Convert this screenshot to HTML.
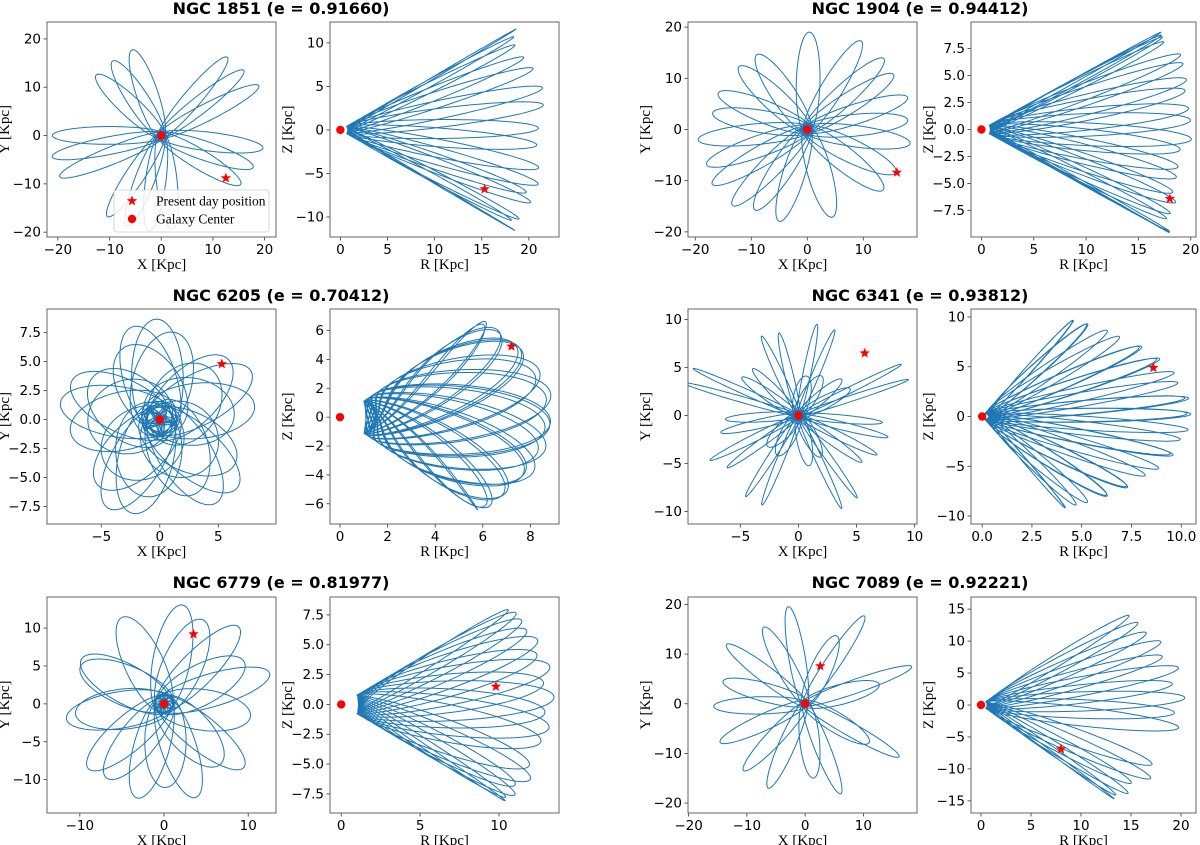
<!DOCTYPE html>
<html><head><meta charset="utf-8"><title>Cluster orbits</title>
<style>
html,body{margin:0;padding:0;background:#fff;}
svg{display:block;}
.tk{font-family:"DejaVu Sans","Liberation Sans",sans-serif;font-size:13.5px;fill:#000;}
.al{font-family:"Liberation Serif",serif;font-size:15px;fill:#000;}
.tt{font-family:"DejaVu Sans","Liberation Sans",sans-serif;font-size:16px;font-weight:bold;fill:#000;}
.lg{font-family:"Liberation Serif",serif;font-size:13.5px;fill:#000;}
</style></head>
<body>
<svg id="fig" width="1200" height="845" viewBox="0 0 1200 845" xmlns="http://www.w3.org/2000/svg"></svg>
<script>
// ---------- data ----------
const groupTitles = ["NGC 1851 (e = 0.91660)","NGC 1904 (e = 0.94412)","NGC 6205 (e = 0.70412)","NGC 6341 (e = 0.93812)","NGC 6779 (e = 0.81977)","NGC 7089 (e = 0.92221)"];
const xyXLim = [[-22.1,22.2],[-21.3,19.6],[-9.64,9.93],[-9.5,10.2],[-13.9,13.3],[-20.1,19.2]];
const xyYLim = [[-21,23.5],[-21,21],[-9.0,9.54],[-11.3,11.1],[-14.4,14.1],[-22,21.5]];
const xyXTicks = [[-20,-10,0,10,20],[-20,-10,0,10],[-5,0,5],[-5,0,5,10],[-10,0,10],[-20,-10,0,10]];
const xyYTicks = [[-20,-10,0,10,20],[-20,-10,0,10,20],[-7.5,-5,-2.5,0,2.5,5,7.5],[-10,-5,0,5,10],[-10,-5,0,5,10],[-20,-10,0,10,20]];
const xyYDec = [0,0,1,0,0,0];
const rzRLim = [[-1.1,23.2],[-1.0,20.5],[-0.42,9.2],[-0.56,10.74],[-0.71,13.8],[-1.0,21.5]];
const rzZLim = [[-12.3,12.4],[-9.94,9.94],[-7.4,7.49],[-10.8,10.8],[-9.1,9.0],[-16.9,16.9]];
const rzRTicks = [[0,5,10,15,20],[0,5,10,15,20],[0,2,4,6,8],[0,2.5,5,7.5,10],[0,5,10],[0,5,10,15,20]];
const rzZTicks = [[-10,-5,0,5,10],[-7.5,-5,-2.5,0,2.5,5,7.5],[-6,-4,-2,0,2,4,6],[-10,-5,0,5,10],[-7.5,-5,-2.5,0,2.5,5,7.5],[-15,-10,-5,0,5,10,15]];
const rzRDec = [0,0,0,1,0,0];
const rzZDec = [0,1,0,0,1,0];
const starX = [12.5,16.0,5.3,5.7,3.5,2.6];
const starY = [-8.8,-8.4,4.8,6.5,9.2,7.6];
const starR = [15.3,18.0,7.2,8.6,9.8,8.0];
const starZ = [-6.8,-6.4,4.9,4.9,1.5,-6.9];
const centerX = [0,0,0,0,0,0];
const centerY = [0,0,0,0,0,0];
// orbit shape parameters
const orbRmin = [1.0,1.0,1.5,0.6,1.3,0.8];
const orbRmax = [22,20.3,9.0,10.7,13.6,20.6];
const orbCount = [16,20,24,30,18,16];
const orbPrecW = [2.537,2.839,2.39,2.3,2.2,2.2];
const orbPrecZ = [0.41,2.839,2.39,2.3,2.2,2.2];
const orbPrecN = [0.02,0.04,0.12,0.2,0.1,0.15];
const orbInc = [32,28,48,66,38,48];
const orbVar = [0.05,0.06,0.04,0.06,0.05,0.06];
const orbWidth = [0.45,0.5,0.9,0.3,0.65,0.5];

// ---------- layout ----------
const NS="http://www.w3.org/2000/svg";
const svg=document.getElementById('fig');
const colX=[[47,276,330,559],[688,917,971,1196]];
const rowY=[[22,237],[309,524],[597,813]];
const titleY=[14,301,588];
function mk(tag,attrs,parent){const e=document.createElementNS(NS,tag);for(const k in attrs)e.setAttribute(k,attrs[k]);(parent||svg).appendChild(e);return e;}
function fmt(v,d){return (v<0?"\u2212":"")+Math.abs(v).toFixed(d);}
function starPts(cx,cy,ro){let p=[];for(let i=0;i<10;i++){const r=i%2?ro*0.42:ro;const a=-Math.PI/2+i*Math.PI/5;p.push((cx+r*Math.cos(a)).toFixed(1)+","+(cy+r*Math.sin(a)).toFixed(1));}return p.join(" ");}

function axes(g,name,x0,x1,y0,y1,xl,yl,xt,yt,xd,yd,xlab,ylab){
  const sx=v=>x0+(v-xl[0])/(xl[1]-xl[0])*(x1-x0);
  const sy=v=>y1-(v-yl[0])/(yl[1]-yl[0])*(y1-y0);
  const grp=mk('g',{},g);
  
  
  const cid='clip-'+name;
  const cp=mk('clipPath',{id:cid},grp);mk('rect',{x:x0,y:y0,width:x1-x0,height:y1-y0},cp);
  const plot=mk('g',{'clip-path':'url(#'+cid+')'},grp);
  
  
  const xa=mk('g',{},grp);
  
  
  xt.forEach(v=>{const X=sx(v);mk('line',{x1:X,x2:X,y1:y1,y2:y1+3.5,stroke:'#333','stroke-width':0.8},xa);
    const t=mk('text',{x:X,y:y1+17,'text-anchor':'middle',class:'tk'},xa);t.textContent=fmt(v,xd);
    });
  const ya=mk('g',{},grp);
  
  
  yt.forEach(v=>{const Y=sy(v);mk('line',{x1:x0-3.5,x2:x0,y1:Y,y2:Y,stroke:'#333','stroke-width':0.8},ya);
    const t=mk('text',{x:x0-6,y:Y+4.5,'text-anchor':'end',class:'tk'},ya);t.textContent=fmt(v,yd);
    });
  const xt2=mk('text',{x:(x0+x1)/2,y:y1+32,'text-anchor':'middle',class:'al'},grp);xt2.textContent=xlab;
  
  const yx=x0-38, yy=(y0+y1)/2;
  const yt2=mk('text',{x:yx,y:yy,'text-anchor':'middle',class:'al',transform:`rotate(-90 ${yx} ${yy})`},grp);yt2.textContent=ylab;
  
  const fr=mk('rect',{x:x0,y:y0,width:x1-x0,height:y1-y0,fill:'none',stroke:'#666','stroke-width':1},grp);
  
  return {sx,sy,plot,grp};
}

for(let k=0;k<6;k++){
  const row=Math.floor(k/2), col=k%2;
  const [ax0,ax1,bx0,bx1]=colX[col];
  const [y0,y1]=rowY[row];
  const g=mk('g',{});
  
  
  const tt=mk('text',{x:(ax0+bx1)/2-22,y:titleY[row],'text-anchor':'middle',class:'tt'},g);
  tt.textContent=groupTitles[k];
  
  

  const A=axes(g,'xy-panel-'+(k+1),ax0,ax1,y0,y1,xyXLim[k],xyYLim[k],xyXTicks[k],xyYTicks[k],0,xyYDec[k],'X [Kpc]','Y [Kpc]');
  const B=axes(g,'rz-panel-'+(k+1),bx0,bx1,y0,y1,rzRLim[k],rzZLim[k],rzRTicks[k],rzZTicks[k],rzRDec[k],rzZDec[k],'R [Kpc]','Z [Kpc]');

  let d='',d2='';const M=120;
  const inc=orbInc[k]*Math.PI/180;
  for(let i=0;i<orbCount[k];i++){
    const rmax=orbRmax[k]*(1-orbVar[k]*(0.5+0.5*Math.sin(i*2.3+1)));
    const rmin=orbRmin[k];const a=(rmax+rmin)/2, e=(rmax-rmin)/(rmax+rmin), b=a*Math.sqrt(1-e*e)*orbWidth[k];
    const w=0.7+i*orbPrecW[k], wz=0.7+i*orbPrecZ[k], W=0.4+i*orbPrecN[k];
    for(let j=0;j<=M;j++){
      const E=2*Math.PI*j/M;
      const px=a*(Math.cos(E)-e), py=b*Math.sin(E);
      const qx=px*Math.cos(w)-py*Math.sin(w), qy=px*Math.sin(w)+py*Math.cos(w);
      const qz=px*Math.sin(wz)+py*Math.cos(wz);
      const x=qx, y=qy*Math.cos(inc), z=qz*Math.sin(inc);
      const X=x*Math.cos(W)-y*Math.sin(W), Y=x*Math.sin(W)+y*Math.cos(W);
      const rr=Math.sqrt(px*px+py*py);
      const R=Math.sqrt(Math.max(rr*rr-z*z,0));
      d+=(d?'L':'M')+A.sx(X).toFixed(1)+' '+A.sy(Y).toFixed(1);
      d2+=(d2?'L':'M')+B.sx(R).toFixed(1)+' '+B.sy(z).toFixed(1);
    }
  }
  const p1=mk('path',{d:d,fill:'none',stroke:'#1f77b4','stroke-width':1,'stroke-linejoin':'round'},A.plot);
  
  
  const c1=mk('circle',{cx:A.sx(centerX[k]),cy:A.sy(centerY[k]),r:4.2,fill:'#ff0000'},A.plot);
  
  
  const s1=mk('polygon',{points:starPts(A.sx(starX[k]),A.sy(starY[k]),5.5),fill:'#ff0000'},A.plot);
  
  

  const p2=mk('path',{d:d2,fill:'none',stroke:'#1f77b4','stroke-width':1,'stroke-linejoin':'round'},B.plot);
  
  
  const c2=mk('circle',{cx:B.sx(0),cy:B.sy(0),r:4.2,fill:'#ff0000'},B.plot);
  
  
  const s2=mk('polygon',{points:starPts(B.sx(starR[k]),B.sy(starZ[k]),5.5),fill:'#ff0000'},B.plot);
  
  

  if(k===0){
    const lg=mk('g',{},g);
    
    
    mk('rect',{x:114,y:190,width:155,height:42,rx:3,fill:'#fff','fill-opacity':0.85,stroke:'#ccc','stroke-width':0.8},lg);
    const ls=mk('polygon',{points:starPts(132,201,5.5),fill:'#ff0000'},lg);
    
    
    const lt1=mk('text',{x:156,y:205.5,class:'lg'},lg);lt1.textContent='Present day position';
    
    
    const lc=mk('circle',{cx:132,cy:219,r:4.2,fill:'#ff0000'},lg);
    
    
    const lt2=mk('text',{x:156,y:223.5,class:'lg'},lg);lt2.textContent='Galaxy Center';
    
    
  }
}
</script>
</body></html>
